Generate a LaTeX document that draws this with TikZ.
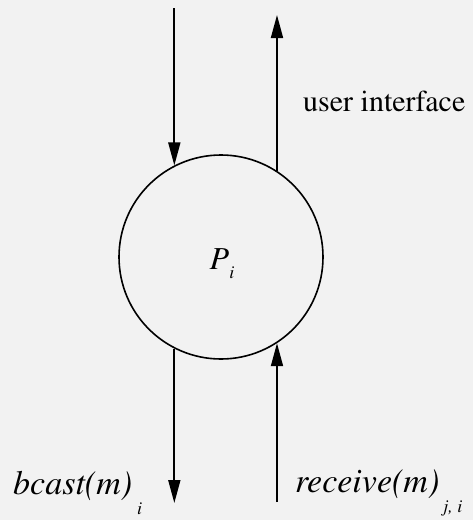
\documentclass[tikz,border=0pt]{standalone}
\usepackage[T1]{fontenc}
\usepackage{times}
\usetikzlibrary{arrows.meta}
\definecolor{paper}{RGB}{242,242,242}
\newcommand{\lowsub}[2]{\raisebox{-#1}{\fontsize{18}{18}\selectfont #2}}

\begin{document}
\begin{tikzpicture}[
  x=1pt, y=-1pt,
  proc/.style={draw, circle, line width=1.6pt, minimum size=204pt, inner sep=0pt},
  lbl/.style={anchor=base west, inner sep=0pt, font=\fontsize{30}{36}\selectfont},
  mlbl/.style={lbl, font=\fontsize{34}{40}\selectfont\itshape},
  arr/.style={-{Triangle[length=23pt,width=12pt]}, line width=1.8pt}
]
\fill[paper] (0,0) rectangle (473,520);
\useasboundingbox (0,0) rectangle (473,520);
\node[proc] (pi) at (221,257) {};
\node[lbl, anchor=base, font=\fontsize{32}{36}\selectfont\itshape] (pname) at (222,269) {P\lowsub{9pt}{i}};
\coordinate (intop) at (pi.117 |- 0,8);
\coordinate (outtop) at (pi.57 |- 0,15);
\coordinate (outbot) at (pi.-117 |- 0,503);
\coordinate (inbot) at (pi.-57 |- 0,502);
\node[lbl] (ui) at (303,111) {user interface};
\node[mlbl] (bcast) at (13,494) {bcast(m)\kern5pt\lowsub{20pt}{i}};
\node[mlbl] (recv) at (295,492) {receive(m)\kern4pt\lowsub{20pt}{j, i}};
\draw[arr] (intop) -- (pi.117);
\draw[arr] (pi.57) -- (outtop);
\draw[arr] (pi.-117) -- (outbot);
\draw[arr] (inbot) -- (pi.-57);
\end{tikzpicture}
\end{document}
